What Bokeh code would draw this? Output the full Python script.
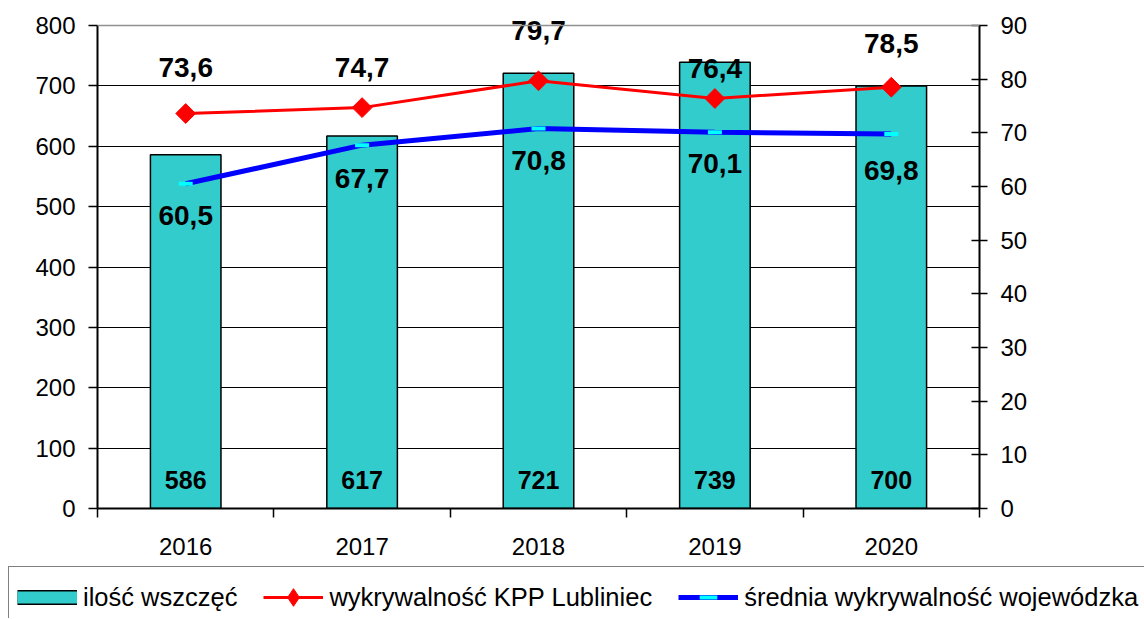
import math
from bokeh.plotting import figure
from bokeh.layouts import column
from bokeh.models import (Range1d, LinearAxis, FixedTicker, ColumnDataSource,
                          Legend, LegendItem, Span)
from bokeh.core.properties import value
from bokeh.embed import file_html
from bokeh.resources import INLINE

# ---- data ----
years = ["2016", "2017", "2018", "2019", "2020"]
cases = [586, 617, 721, 739, 700]          # ilość wszczęć (left axis)
kpp = [73.6, 74.7, 79.7, 76.4, 78.5]       # wykrywalność KPP Lubliniec (right axis)
avg = [60.5, 67.7, 70.8, 70.1, 69.8]       # średnia wykrywalność wojewódzka (right axis)
left_ticks = [0, 100, 200, 300, 400, 500, 600, 700, 800]
right_ticks = [0, 10, 20, 30, 40, 50, 60, 70, 80, 90]
series_names = ["ilość wszczęć", "wykrywalność KPP Lubliniec",
                "średnia wykrywalność wojewódzka"]

# ---- label placement (styles, px) ----
kpp_label_offsets = [-46, -40, -50, -30, -44]
avg_label_offsets = [32, 33, 32, 31, 37]

FONT = "Liberation Sans"
BAR_FILL = "#33CCCC"
RED = "#FF0000"
BLUE = "#0000FF"
CYAN = "#00FFFF"

# layout (px)
PLOT_H = 483          # height from value 0 to value 800
TOP_PAD = 15          # extra frame space above 800 so top labels are not clipped
FRAME_H = PLOT_H + TOP_PAD
y_left_end = left_ticks[-1] * FRAME_H / PLOT_H
y_right_end = right_ticks[-1] * FRAME_H / PLOT_H

xs = [i + 0.5 for i in range(len(years))]
def fmt(v):
    return f"{v:.1f}".replace(".", ",")

src = ColumnDataSource(dict(
    x=xs, cases=cases, kpp=kpp, avg=avg,
    cases_lbl=[str(c) for c in cases],
    kpp_lbl=[fmt(v) for v in kpp],
    avg_lbl=[fmt(v) for v in avg],
    kpp_off=kpp_label_offsets,
    avg_off=avg_label_offsets,
))

p = figure(frame_width=882, frame_height=FRAME_H,
           min_border_left=97, min_border_right=165,
           min_border_top=10, min_border_bottom=58,
           x_range=Range1d(0, len(years)), y_range=Range1d(0, y_left_end),
           output_backend="svg", toolbar_location=None)
p.extra_y_ranges = {"r": Range1d(0, y_right_end)}
p.outline_line_color = None
p.background_fill_color = "white"
p.border_fill_color = "white"

# grid
p.xgrid.visible = False
p.ygrid.ticker = FixedTicker(ticks=left_ticks[1:-1])
p.ygrid.grid_line_color = "black"
p.ygrid.grid_line_width = 1
p.add_layout(Span(location=left_ticks[-1], dimension="width",
                  line_color="#909090", line_width=1.5))

# bars
p.vbar(x="x", top="cases", width=0.4, source=src,
       fill_color=BAR_FILL, line_color="black", line_width=1.5)

# lines
p.line("x", "kpp", source=src, y_range_name="r", line_color=RED, line_width=3)
p.scatter("x", "kpp", source=src, y_range_name="r",
          marker="square", angle=math.pi / 4, size=14,
          fill_color=RED, line_color=RED)
p.line("x", "avg", source=src, y_range_name="r", line_color=BLUE, line_width=5)
p.scatter("x", "avg", source=src, y_range_name="r",
          marker="dash", size=14, line_color=CYAN, line_width=4)

# labels
p.text(x="x", y=0, text="cases_lbl", source=src, y_offset=-29,
       text_align="center", text_baseline="middle",
       text_font=value(FONT), text_font_style="bold",
       text_font_size="25px", text_color="black")
p.text(x="x", y="kpp", text="kpp_lbl", source=src, y_range_name="r",
       y_offset="kpp_off", text_align="center", text_baseline="middle",
       text_font=value(FONT), text_font_style="bold",
       text_font_size="28px", text_color="black")
p.text(x="x", y="avg", text="avg_lbl", source=src, y_range_name="r",
       y_offset="avg_off", text_align="center", text_baseline="middle",
       text_font=value(FONT), text_font_style="bold",
       text_font_size="28px", text_color="black")

# left axis
ya = p.yaxis[0]
ya.ticker = FixedTicker(ticks=left_ticks)
ya.bounds = (left_ticks[0], left_ticks[-1])
ya.major_tick_out = 9
ya.major_tick_in = 0
ya.minor_tick_line_color = None
ya.axis_line_color = "black"
ya.axis_line_width = 2
ya.major_tick_line_color = "black"
ya.major_tick_line_width = 1.5
ya.major_label_text_font = FONT
ya.major_label_text_font_size = "24px"
ya.major_label_text_color = "black"
ya.major_label_standoff = 13

# bottom axis
xa = p.xaxis[0]
xa.ticker = FixedTicker(ticks=xs, minor_ticks=list(range(len(years) + 1)))
xa.major_label_overrides = {x: y for x, y in zip(xs, years)}
xa.major_tick_line_color = None
xa.major_tick_out = 0
xa.major_tick_in = 0
xa.minor_tick_out = 9
xa.minor_tick_in = 0
xa.minor_tick_line_color = "black"
xa.minor_tick_line_width = 1.5
xa.axis_line_color = "black"
xa.axis_line_width = 2
xa.major_label_text_font = FONT
xa.major_label_text_font_size = "24px"
xa.major_label_text_color = "black"
xa.major_label_standoff = 20

# right axis
ra = LinearAxis(y_range_name="r", ticker=FixedTicker(ticks=right_ticks),
                bounds=(right_ticks[0], right_ticks[-1]))
ra.major_tick_out = 8
ra.major_tick_in = 8
ra.minor_tick_line_color = None
ra.axis_line_color = "black"
ra.axis_line_width = 2
ra.major_tick_line_color = "black"
ra.major_tick_line_width = 1.5
ra.major_label_text_font = FONT
ra.major_label_text_font_size = "24px"
ra.major_label_text_color = "black"
ra.major_label_standoff = 13
p.add_layout(ra, "right")

# ---- legend strip (separate figure so it may extend past the chart frame) ----
lf = figure(frame_width=1144, frame_height=52, min_border=0,
            x_range=Range1d(0, 1), y_range=Range1d(0, 1),
            output_backend="svg", toolbar_location=None)
lf.axis.visible = False
lf.grid.visible = False
lf.outline_line_color = None
lf.background_fill_color = "white"
lf.border_fill_color = "white"
# legend sample glyphs (outside the visible range; only their styles are shown)
hx, hy = [-10, -9], [-10, -10]
lg_bar_edge = lf.line(x=hx, y=hy, line_color="black", line_width=15, line_cap="butt")
lg_bar_fill = lf.line(x=hx, y=hy, line_color=BAR_FILL, line_width=12, line_cap="butt")
lg_rl = lf.line(x=hx, y=hy, line_color=RED, line_width=3)
lg_rp = lf.scatter(x=[-10], y=[-10], marker="diamond",
                   fill_color=RED, line_color=RED)
lg_bl = lf.line(x=hx, y=hy, line_color=BLUE, line_width=5)
lg_bp = lf.scatter(x=[-10], y=[-10], marker="dash",
                   line_color=CYAN, line_width=4)

legend = Legend(items=[
    LegendItem(label=series_names[0], renderers=[lg_bar_edge, lg_bar_fill]),
    LegendItem(label=series_names[1], renderers=[lg_rl, lg_rp]),
    LegendItem(label=series_names[2], renderers=[lg_bl, lg_bp]),
], orientation="horizontal", location=(8, -10),
    padding=8, spacing=26, margin=0,
    glyph_width=60, glyph_height=44, label_height=44, label_standoff=6,
    label_text_font=FONT, label_text_font_size="25.5px", label_text_color="black",
    border_line_color="black", border_line_width=1.5,
    background_fill_color="white", background_fill_alpha=1)
lf.add_layout(legend, "center")

layout = column(p, lf, spacing=0)
open("out.html", "w").write(file_html(layout, INLINE))
